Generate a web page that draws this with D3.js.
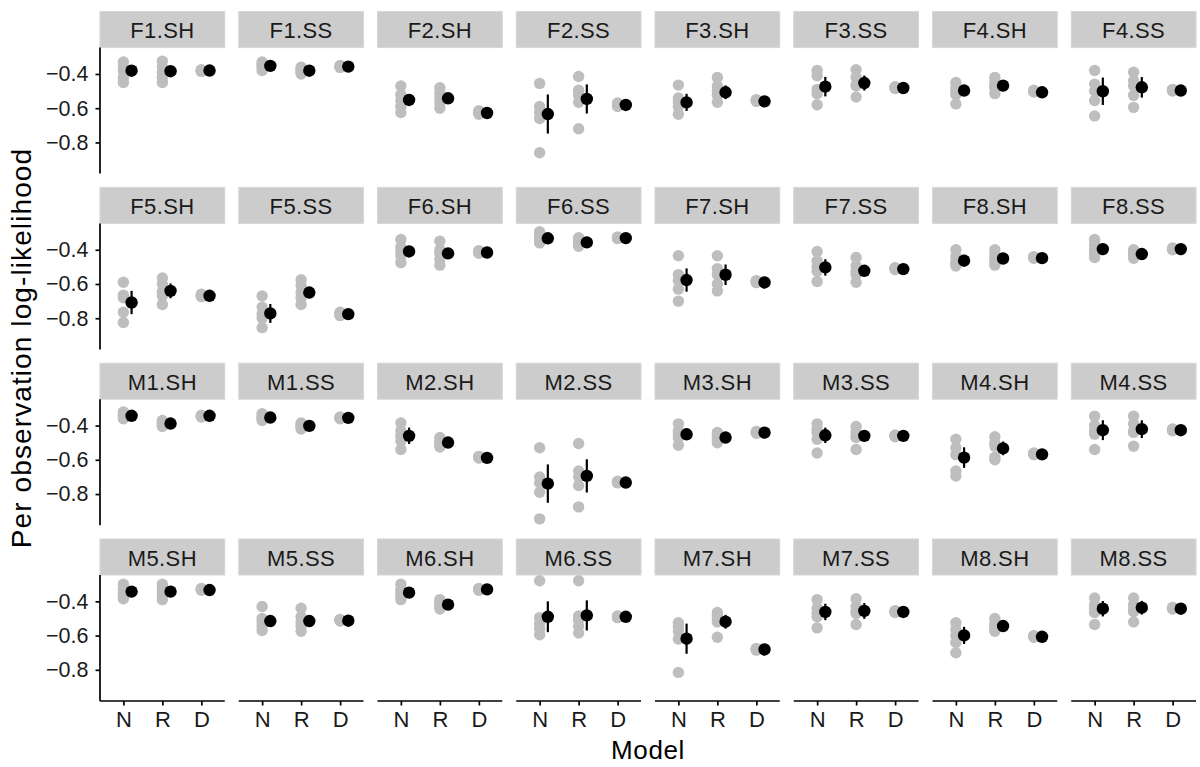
<!DOCTYPE html>
<html>
<head>
<meta charset="utf-8">
<script src="https://cdn.jsdelivr.net/npm/d3@7"></script>
<style>
  html, body { margin: 0; padding: 0; background: #ffffff; }
  svg { display: block; font-family: "Liberation Sans", Arial, Helvetica, sans-serif; }
</style>
</head>
<body>
<svg id="chart" width="1200" height="767"></svg>
<script>
// ---------- data ----------
const panels = [
  "F1.SH","F1.SS","F2.SH","F2.SS","F3.SH","F3.SS","F4.SH","F4.SS",
  "F5.SH","F5.SS","F6.SH","F6.SS","F7.SH","F7.SS","F8.SH","F8.SS",
  "M1.SH","M1.SS","M2.SH","M2.SS","M3.SH","M3.SS","M4.SH","M4.SS",
  "M5.SH","M5.SS","M6.SH","M6.SS","M7.SH","M7.SS","M8.SH","M8.SS"
];
const models = ["N", "R", "D"];
const yTicks = [-0.4, -0.6, -0.8];

// per-fold log-likelihoods (grey points): [N, R, D] per panel
const foldLL = [
  [[-0.33,-0.36,-0.38,-0.42,-0.45],[-0.325,-0.36,-0.39,-0.42,-0.45],[-0.375,-0.378,-0.38,-0.382,-0.385]],
  [[-0.33,-0.34,-0.355,-0.36,-0.38],[-0.36,-0.37,-0.38,-0.39,-0.40],[-0.35,-0.355,-0.357,-0.36,-0.362]],
  [[-0.47,-0.52,-0.555,-0.59,-0.625],[-0.48,-0.51,-0.54,-0.57,-0.60],[-0.615,-0.62,-0.625,-0.63,-0.635]],
  [[-0.455,-0.59,-0.625,-0.66,-0.86],[-0.415,-0.495,-0.525,-0.565,-0.72],[-0.57,-0.575,-0.58,-0.585,-0.59]],
  [[-0.465,-0.54,-0.565,-0.59,-0.635],[-0.42,-0.47,-0.50,-0.525,-0.565],[-0.55,-0.553,-0.556,-0.558,-0.56]],
  [[-0.38,-0.41,-0.49,-0.515,-0.58],[-0.375,-0.42,-0.465,-0.47,-0.535],[-0.475,-0.478,-0.48,-0.482,-0.485]],
  [[-0.45,-0.48,-0.50,-0.52,-0.575],[-0.42,-0.45,-0.47,-0.48,-0.515],[-0.495,-0.498,-0.50,-0.502,-0.505]],
  [[-0.38,-0.46,-0.50,-0.555,-0.645],[-0.39,-0.44,-0.47,-0.525,-0.595],[-0.49,-0.493,-0.495,-0.497,-0.50]],

  [[-0.59,-0.665,-0.68,-0.765,-0.825],[-0.565,-0.60,-0.645,-0.67,-0.72],[-0.66,-0.665,-0.668,-0.67,-0.675]],
  [[-0.67,-0.735,-0.775,-0.80,-0.855],[-0.575,-0.61,-0.65,-0.68,-0.72],[-0.765,-0.77,-0.775,-0.78,-0.785]],
  [[-0.34,-0.385,-0.41,-0.435,-0.475],[-0.35,-0.40,-0.42,-0.455,-0.49],[-0.405,-0.41,-0.413,-0.416,-0.42]],
  [[-0.295,-0.32,-0.335,-0.355,-0.36],[-0.33,-0.345,-0.36,-0.37,-0.38],[-0.325,-0.328,-0.33,-0.332,-0.335]],
  [[-0.435,-0.545,-0.58,-0.63,-0.70],[-0.435,-0.51,-0.545,-0.60,-0.64],[-0.58,-0.583,-0.586,-0.589,-0.592]],
  [[-0.41,-0.465,-0.50,-0.525,-0.585],[-0.445,-0.495,-0.525,-0.545,-0.59],[-0.505,-0.508,-0.51,-0.512,-0.515]],
  [[-0.40,-0.44,-0.47,-0.48,-0.495],[-0.40,-0.43,-0.455,-0.47,-0.49],[-0.44,-0.443,-0.445,-0.447,-0.45]],
  [[-0.34,-0.37,-0.40,-0.42,-0.445],[-0.40,-0.41,-0.425,-0.44,-0.45],[-0.39,-0.393,-0.395,-0.397,-0.40]],

  [[-0.32,-0.33,-0.34,-0.35,-0.36],[-0.37,-0.38,-0.39,-0.395,-0.405],[-0.34,-0.343,-0.345,-0.347,-0.35]],
  [[-0.33,-0.345,-0.355,-0.36,-0.37],[-0.385,-0.395,-0.40,-0.41,-0.42],[-0.35,-0.353,-0.355,-0.357,-0.36]],
  [[-0.385,-0.43,-0.46,-0.49,-0.54],[-0.47,-0.49,-0.50,-0.51,-0.525],[-0.58,-0.583,-0.585,-0.587,-0.59]],
  [[-0.53,-0.70,-0.735,-0.79,-0.945],[-0.505,-0.665,-0.70,-0.75,-0.875],[-0.725,-0.728,-0.73,-0.732,-0.735]],
  [[-0.39,-0.43,-0.45,-0.47,-0.515],[-0.44,-0.455,-0.47,-0.485,-0.50],[-0.435,-0.438,-0.44,-0.442,-0.445]],
  [[-0.39,-0.42,-0.44,-0.48,-0.56],[-0.405,-0.44,-0.46,-0.47,-0.54],[-0.455,-0.458,-0.46,-0.462,-0.465]],
  [[-0.48,-0.53,-0.57,-0.665,-0.695],[-0.465,-0.50,-0.52,-0.585,-0.60],[-0.56,-0.563,-0.565,-0.567,-0.57]],
  [[-0.345,-0.40,-0.43,-0.45,-0.54],[-0.345,-0.39,-0.43,-0.44,-0.52],[-0.42,-0.423,-0.425,-0.427,-0.43]],

  [[-0.30,-0.33,-0.345,-0.36,-0.385],[-0.30,-0.325,-0.345,-0.365,-0.39],[-0.325,-0.328,-0.33,-0.332,-0.335]],
  [[-0.43,-0.50,-0.52,-0.545,-0.57],[-0.44,-0.49,-0.52,-0.545,-0.575],[-0.505,-0.508,-0.51,-0.512,-0.515]],
  [[-0.30,-0.33,-0.35,-0.37,-0.39],[-0.39,-0.41,-0.42,-0.43,-0.445],[-0.325,-0.328,-0.33,-0.332,-0.335]],
  [[-0.28,-0.495,-0.53,-0.56,-0.595],[-0.28,-0.485,-0.51,-0.545,-0.585],[-0.485,-0.488,-0.49,-0.492,-0.495]],
  [[-0.525,-0.55,-0.575,-0.62,-0.815],[-0.465,-0.48,-0.50,-0.52,-0.61],[-0.675,-0.678,-0.68,-0.682,-0.685]],
  [[-0.39,-0.44,-0.47,-0.49,-0.555],[-0.385,-0.43,-0.455,-0.47,-0.535],[-0.455,-0.458,-0.46,-0.462,-0.465]],
  [[-0.525,-0.565,-0.60,-0.64,-0.70],[-0.50,-0.53,-0.55,-0.56,-0.575],[-0.60,-0.603,-0.605,-0.607,-0.61]],
  [[-0.38,-0.42,-0.44,-0.465,-0.535],[-0.38,-0.42,-0.44,-0.46,-0.52],[-0.435,-0.438,-0.44,-0.442,-0.445]]
];

// mean per-observation log-likelihood (black points): [N, R, D]
const meanLL = [
  [-0.381,-0.384,-0.380],[-0.353,-0.381,-0.357],[-0.552,-0.542,-0.628],[-0.634,-0.546,-0.581],
  [-0.566,-0.507,-0.560],[-0.474,-0.453,-0.482],[-0.497,-0.468,-0.507],[-0.501,-0.478,-0.497],
  [-0.708,-0.640,-0.669],[-0.772,-0.650,-0.776],[-0.410,-0.421,-0.416],[-0.333,-0.357,-0.332],
  [-0.577,-0.546,-0.591],[-0.503,-0.523,-0.513],[-0.464,-0.451,-0.449],[-0.396,-0.425,-0.396],
  [-0.343,-0.388,-0.343],[-0.353,-0.402,-0.355],[-0.460,-0.499,-0.589],[-0.739,-0.694,-0.733],
  [-0.451,-0.470,-0.441],[-0.457,-0.460,-0.460],[-0.587,-0.533,-0.568],[-0.427,-0.421,-0.427],
  [-0.343,-0.343,-0.334],[-0.515,-0.515,-0.513],[-0.349,-0.419,-0.330],[-0.490,-0.482,-0.490],
  [-0.618,-0.519,-0.681],[-0.462,-0.456,-0.462],[-0.599,-0.544,-0.607],[-0.443,-0.437,-0.443]
];

// half-width of the interval (error bars): [N, R, D]
const ciHalf = [
  [0.015,0.015,0.003],[0.010,0.008,0.003],[0.028,0.025,0.004],[0.114,0.085,0.004],
  [0.050,0.040,0.003],[0.057,0.044,0.003],[0.020,0.015,0.003],[0.080,0.060,0.003],
  [0.068,0.043,0.004],[0.055,0.020,0.004],[0.025,0.020,0.003],[0.012,0.010,0.003],
  [0.068,0.060,0.003],[0.048,0.025,0.003],[0.018,0.016,0.003],[0.020,0.010,0.003],
  [0.007,0.006,0.003],[0.007,0.006,0.003],[0.048,0.010,0.003],[0.112,0.097,0.003],
  [0.020,0.012,0.003],[0.045,0.030,0.003],[0.060,0.040,0.003],[0.058,0.052,0.003],
  [0.015,0.015,0.003],[0.025,0.020,0.003],[0.012,0.010,0.003],[0.090,0.088,0.003],
  [0.088,0.040,0.003],[0.048,0.046,0.003],[0.050,0.020,0.003],[0.045,0.040,0.003]
];

// ---------- layout ----------
const nCols = 8;
const leftX = 100, panelW = 124.75, gapX = 14;
const topY = 11.6, stripH = 36, panelH = 126, rowPitch = 175.8;
const nRows = Math.ceil(panels.length / nCols);

const svg = d3.select("#chart");

const x = d3.scalePoint().domain(models).range([0, panelW]).padding(0.6);
const y = d3.scaleLinear().domain([-0.982, -0.246]).range([panelH, 0]);
const nudge = x.step() * 0.21;

const fontMain = 22;
const fontTick = 21.5;

panels.forEach((name, i) => {
  const col = i % nCols, row = Math.floor(i / nCols);
  const px = leftX + col * (panelW + gapX);
  const py = topY + row * rowPitch;

  const g = svg.append("g").attr("transform", `translate(${px},${py})`);

  // strip
  g.append("rect")
    .attr("x", 0).attr("y", 0).attr("width", panelW).attr("height", stripH)
    .attr("fill", "#cccccc").attr("stroke", "#d6d6d6").attr("stroke-width", 1);
  g.append("text")
    .attr("x", panelW / 2).attr("y", stripH / 2 + 1)
    .attr("text-anchor", "middle").attr("dominant-baseline", "central")
    .attr("font-size", fontMain).attr("letter-spacing", 0.4).attr("fill", "#1a1a1a")
    .text(name);

  const body = g.append("g").attr("transform", `translate(0,${stripH})`);

  // grey fold points
  const pts = [];
  models.forEach((m, k) => foldLL[i][k].forEach(v => pts.push({ m, v })));
  body.selectAll("circle.fold").data(pts).join("circle")
    .attr("class", "fold")
    .attr("cx", d => x(d.m)).attr("cy", d => y(d.v))
    .attr("r", 5.7).attr("fill", "#bebebe");

  // error bars
  const summ = models.map((m, k) => ({ m, mean: meanLL[i][k], h: ciHalf[i][k] }));
  body.selectAll("line.err").data(summ).join("line")
    .attr("class", "err")
    .attr("x1", d => x(d.m) + nudge).attr("x2", d => x(d.m) + nudge)
    .attr("y1", d => y(d.mean - d.h)).attr("y2", d => y(d.mean + d.h))
    .attr("stroke", "#000").attr("stroke-width", 2.2);

  body.selectAll("circle.mean").data(summ).join("circle")
    .attr("class", "mean")
    .attr("cx", d => x(d.m) + nudge).attr("cy", d => y(d.mean))
    .attr("r", 6.2).attr("fill", "#000");

  // y axis on first column
  if (col === 0) {
    const ya = body.append("g")
      .call(d3.axisLeft(y).tickValues(yTicks).tickFormat(d3.format(".1f")).tickSize(4.5).tickPadding(7));
    ya.select(".domain").attr("stroke", "#000").attr("stroke-width", 1.7).attr("d", `M0,0V${panelH}`);
    ya.selectAll(".tick line").attr("stroke", "#000").attr("stroke-width", 1.7);
    ya.selectAll(".tick text").attr("font-size", fontTick).attr("fill", "#1a1a1a")
      .attr("font-family", "Liberation Sans, Arial, sans-serif");
  }
  // x axis on bottom row
  if (row === nRows - 1) {
    const xa = body.append("g").attr("transform", `translate(0,${panelH})`)
      .call(d3.axisBottom(x).tickSize(4.5).tickPadding(6));
    xa.select(".domain").attr("stroke", "#000").attr("stroke-width", 1.7).attr("d", `M0,0H${panelW}`);
    xa.selectAll(".tick line").attr("stroke", "#000").attr("stroke-width", 1.7);
    xa.selectAll(".tick text").attr("font-size", fontMain).attr("fill", "#1a1a1a")
      .attr("font-family", "Liberation Sans, Arial, sans-serif");
  }
});

// axis titles
const plotRight = leftX + nCols * panelW + (nCols - 1) * gapX;
svg.append("text")
  .attr("x", (leftX + plotRight) / 2).attr("y", 759)
  .attr("text-anchor", "middle").attr("font-size", 26).attr("letter-spacing", 0.6).attr("fill", "#000")
  .text("Model");
svg.append("text")
  .attr("transform", `translate(31,348) rotate(-90)`)
  .attr("text-anchor", "middle").attr("font-size", 28).attr("letter-spacing", 1.1).attr("fill", "#000")
  .text("Per observation log-likelihood");
</script>
</body>
</html>
